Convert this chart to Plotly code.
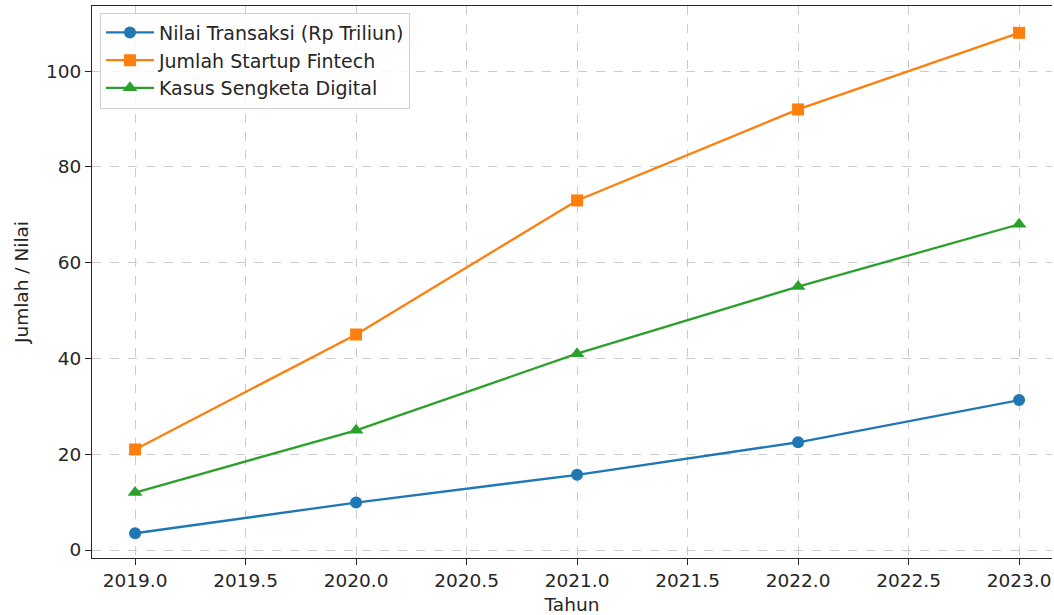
import plotly.graph_objects as go

tahun = [2019, 2020, 2021, 2022, 2023]
nilai_transaksi = [3.5, 9.9, 15.7, 22.5, 31.3]
jumlah_startup = [21, 45, 73, 92, 108]
kasus_sengketa = [12, 25, 41, 55, 68]

series = [
    ("Nilai Transaksi (Rp Triliun)", nilai_transaksi, "#1f77b4", "circle"),
    ("Jumlah Startup Fintech", jumlah_startup, "#ff7f0e", "square"),
    ("Kasus Sengketa Digital", kasus_sengketa, "#2ca02c", "triangle-up"),
]

fig = go.Figure()
for i, (name, vals, color, sym) in enumerate(series):
    fig.add_trace(go.Scatter(
        x=tahun, y=vals, name=name, mode="lines+markers",
        line=dict(color=color, width=2.3),
        marker=dict(symbol=sym, size=12 if sym != "triangle-up" else 13, color=color),
        legendgroup=f"g{i}",
    ))

FS = 18.5
font = dict(family="DejaVu Sans", size=FS, color="#262626")
fig.update_layout(
    width=1054, height=615,
    margin=dict(l=92, r=2, t=6, b=57, autoexpand=False),
    paper_bgcolor="white", plot_bgcolor="white",
    font=font,
    showlegend=True,
    legend=dict(
        x=0.0083, y=0.988, xanchor="left", yanchor="top",
        bgcolor="rgba(255,255,255,0.8)", bordercolor="#d0d0d0", borderwidth=1,
        font=dict(family="DejaVu Sans", size=19, color="#262626"),
        tracegroupgap=0, itemwidth=48,
    ),
)
fig.update_xaxes(
    range=[2018.805, 2023.149], dtick=0.5, tick0=2019, tickformat=".1f",
    showline=True, linecolor="#262626", linewidth=1.2, mirror=True,
    ticks="outside", ticklen=6, tickcolor="#262626",
    showgrid=True, gridcolor="#cccccc", griddash="dash", gridwidth=1,
    zeroline=False, automargin=False,
    title=dict(text="Tahun", font=dict(size=FS), standoff=8),
    tickfont=dict(size=FS),
)
fig.update_yaxes(
    range=[-1.67, 113.6], dtick=20, tick0=0,
    showline=True, linecolor="#262626", linewidth=1.2, mirror=False,
    ticks="outside", ticklen=6, tickcolor="#262626",
    showgrid=True, gridcolor="#cccccc", griddash="dash", gridwidth=1,
    zeroline=False, automargin=False,
    title=dict(text="Jumlah / Nilai", font=dict(size=FS), standoff=12),
    tickfont=dict(size=FS),
)

fig.write_html(
    "out.html",
    config={"displayModeBar": False},
    post_script="document.body.style.margin='0';document.body.style.overflow='hidden';",
)
